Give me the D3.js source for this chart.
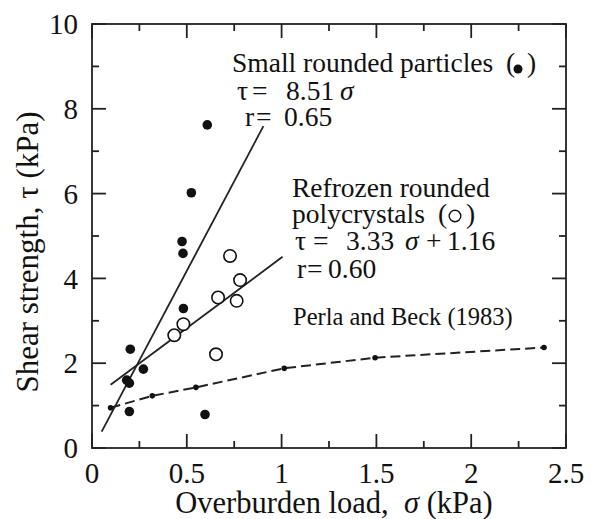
<!DOCTYPE html>
<html>
<head>
<meta charset="utf-8">
<script src="https://cdn.jsdelivr.net/npm/d3@7"></script>
<style>
  body { margin: 0; background: #fff; }
  svg { display: block; }
</style>
</head>
<body>
<div id="chart"></div>
<script>
const width = 596;
const height = 519;

// small rounded particles (filled)
const smallX = [0.475, 0.48, 0.608, 0.524, 0.482, 0.202, 0.271, 0.183, 0.197, 0.197, 0.596];
const smallY = [4.87, 4.59, 7.62, 6.02, 3.29, 2.33, 1.86, 1.60, 1.53, 0.86, 0.79];

// refrozen rounded polycrystals (open)
const refrozenX = [0.728, 0.781, 0.665, 0.763, 0.482, 0.434, 0.654];
const refrozenY = [4.53, 3.96, 3.55, 3.47, 2.92, 2.66, 2.21];

// Perla and Beck (1983)
const perlaX = [0.098, 0.318, 0.548, 1.014, 1.493, 2.384];
const perlaY = [0.95, 1.23, 1.43, 1.88, 2.13, 2.37];

// regression line end points
const smallFit = [[0.051, 0.385], [0.904, 7.59]];
const refrozenFit = [[0.098, 1.49], [1.005, 4.51]];

const xMajor = [0, 0.5, 1, 1.5, 2, 2.5];
const xMinor = [0.25, 0.75, 1.25, 1.75, 2.25];
const yMajor = [0, 2, 4, 6, 8, 10];
const yMinor = [1, 3, 5, 7, 9];

const serif = "Liberation Serif";

const margin = {top: 24, right: 30, bottom: 71, left: 92};

const x = d3.scaleLinear().domain([0, 2.5]).range([margin.left, width - margin.right]);
const y = d3.scaleLinear().domain([0, 10]).range([height - margin.bottom, margin.top]);

const svg = d3.select("#chart").append("svg")
  .attr("width", width)
  .attr("height", height)
  .attr("viewBox", [0, 0, width, height]);

const x0 = x.range()[0], x1 = x.range()[1];
const y0 = y.range()[0], y1 = y.range()[1];

// frame
svg.append("rect")
  .attr("x", x0).attr("y", y1)
  .attr("width", x1 - x0).attr("height", y0 - y1)
  .attr("fill", "none")
  .attr("stroke", "#222")
  .attr("stroke-width", 1.8);

// inward ticks on all four sides
const ticks = svg.append("g").attr("stroke", "#222").attr("stroke-width", 1.8);
function xTicks(vals, len) {
  ticks.selectAll(null).data(vals).join("line")
    .attr("x1", d => x(d)).attr("x2", d => x(d))
    .attr("y1", y0).attr("y2", y0 - len);
  ticks.selectAll(null).data(vals).join("line")
    .attr("x1", d => x(d)).attr("x2", d => x(d))
    .attr("y1", y1).attr("y2", y1 + len);
}
function yTicks(vals, len) {
  ticks.selectAll(null).data(vals).join("line")
    .attr("y1", d => y(d)).attr("y2", d => y(d))
    .attr("x1", x0).attr("x2", x0 + len);
  ticks.selectAll(null).data(vals).join("line")
    .attr("y1", d => y(d)).attr("y2", d => y(d))
    .attr("x1", x1).attr("x2", x1 - len);
}
xTicks(xMajor, 14);
xTicks(xMinor, 7);
yTicks(yMajor, 14);
yTicks(yMinor, 7);

// one text element per annotation line, pieces placed as tspans
function textLine(parent, py, size, parts) {
  const t = parent.append("text")
    .attr("y", py)
    .attr("font-family", serif)
    .attr("font-size", size)
    .attr("fill", "#111");
  parts.forEach(([px, str, italic]) => {
    t.append("tspan")
      .attr("x", px)
      .attr("font-style", italic ? "italic" : null)
      .text(str);
  });
  return t;
}

// tick labels
svg.append("g").selectAll("text")
  .data(xMajor)
  .join("text")
  .attr("x", d => x(d))
  .attr("y", 483)
  .attr("text-anchor", "middle")
  .attr("font-family", serif)
  .attr("font-size", 29)
  .attr("fill", "#111")
  .text(d => d);

svg.append("g").selectAll("text")
  .data(yMajor)
  .join("text")
  .attr("x", 78)
  .attr("y", d => y(d))
  .attr("dy", "0.35em")
  .attr("text-anchor", "end")
  .attr("font-family", serif)
  .attr("font-size", 29)
  .attr("fill", "#111")
  .text(d => d);

// axis titles
const xTitle = svg.append("text")
  .attr("x", 334)
  .attr("y", 513)
  .attr("text-anchor", "middle")
  .attr("font-family", serif)
  .attr("font-size", 30.5)
  .attr("fill", "#111")
  .attr("xml:space", "preserve");
xTitle.append("tspan").text("Overburden load,  ");
xTitle.append("tspan").attr("font-style", "italic").text("σ");
xTitle.append("tspan").text(" (kPa)");

svg.append("text")
  .attr("transform", `translate(38,252) rotate(-90)`)
  .attr("text-anchor", "middle")
  .attr("font-family", serif)
  .attr("font-size", 31)
  .attr("fill", "#111")
  .text("Shear strength, τ (kPa)");

// Perla and Beck dashed curve
const perla = perlaX.map((d, i) => [d, perlaY[i]]);
const line = d3.line().x(d => x(d[0])).y(d => y(d[1]));
svg.append("path")
  .datum(perla)
  .attr("fill", "none")
  .attr("stroke", "#222")
  .attr("stroke-width", 2)
  .attr("stroke-dasharray", "10,5")
  .attr("d", line);
svg.append("g").selectAll("circle")
  .data(perla)
  .join("circle")
  .attr("cx", d => x(d[0]))
  .attr("cy", d => y(d[1]))
  .attr("r", 2.8)
  .attr("fill", "#111");

// regression lines
[smallFit, refrozenFit].forEach(f => {
  svg.append("path")
    .datum(f)
    .attr("fill", "none")
    .attr("stroke", "#222")
    .attr("stroke-width", 1.8)
    .attr("d", line);
});

// points
svg.append("g").selectAll("circle")
  .data(refrozenX.map((d, i) => [d, refrozenY[i]]))
  .join("circle")
  .attr("cx", d => x(d[0]))
  .attr("cy", d => y(d[1]))
  .attr("r", 6.2)
  .attr("fill", "#fff")
  .attr("stroke", "#111")
  .attr("stroke-width", 1.6);

svg.append("g").selectAll("circle")
  .data(smallX.map((d, i) => [d, smallY[i]]))
  .join("circle")
  .attr("cx", d => x(d[0]))
  .attr("cy", d => y(d[1]))
  .attr("r", 4.8)
  .attr("fill", "#111");

// annotations
const ann = svg.append("g");
const fs = 27.5;

textLine(ann, 72, fs, [[232, "Small rounded particles"], [506, "("], [527, ")"]]);
ann.append("circle").attr("cx", 518).attr("cy", 69).attr("r", 4.5).attr("fill", "#111");

textLine(ann, 100, fs, [[237, "τ"], [252, "="], [286, "8.51"], [340, "σ", true]]);
textLine(ann, 126, fs, [[245, "r"], [256, "="], [284, "0.65"]]);

textLine(ann, 197, fs, [[292, "Refrozen rounded"]]);
textLine(ann, 223, fs, [[292, "polycrystals"], [438, "("], [466, ")"]]);
ann.append("circle").attr("cx", 455).attr("cy", 216).attr("r", 5.8)
  .attr("fill", "none").attr("stroke", "#111").attr("stroke-width", 1.4);

textLine(ann, 250, fs, [[295, "τ"], [313, "="], [346, "3.33"], [405, "σ", true], [426, "+"], [447, "1.16"]]);
textLine(ann, 278, fs, [[297, "r"], [307, "="], [328, "0.60"]]);

textLine(ann, 325, 24.5, [[293, "Perla and Beck (1983)"]]);
</script>
</body>
</html>
